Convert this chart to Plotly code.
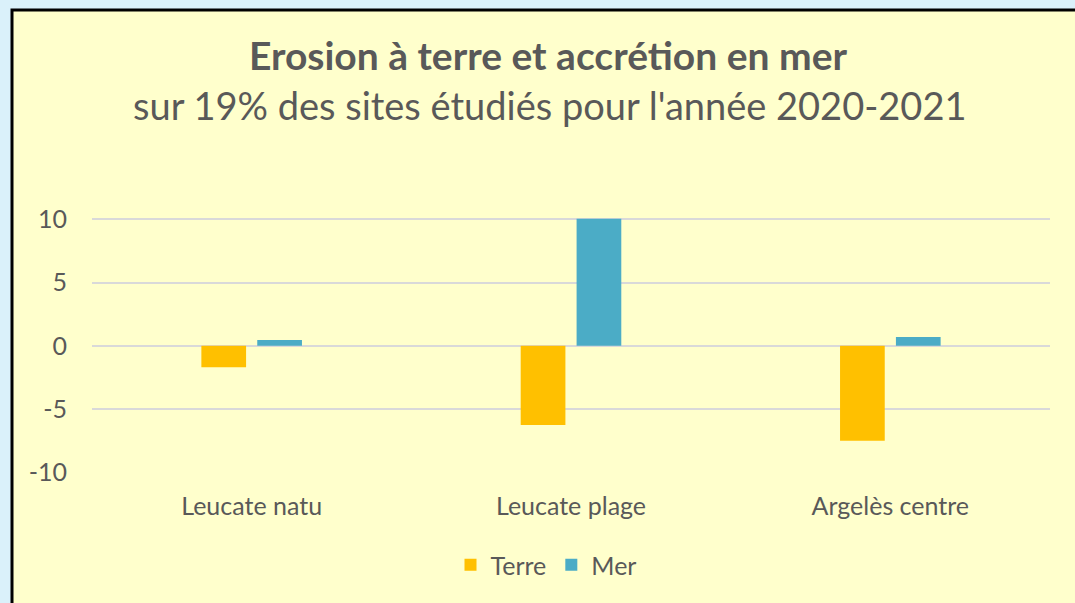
import plotly.graph_objects as go

categories = ["Leucate natu", "Leucate plage", "Argelès centre"]
terre = [-1.7, -6.25, -7.5]
mer = [0.45, 10.05, 0.7]
series_names = ["Terre", "Mer"]
ytick_vals = [-10, -5, 0, 5, 10]
ytick_text = ["-10", "-5", "0", "5", "10"]
title_text = "Erosion à terre et accrétion en mer"
subtitle_text = "sur 19% des sites étudiés pour l'année 2020-2021"

FONT = "Lato"
TXT = "#595959"

fig = go.Figure()
fig.add_trace(go.Bar(x=categories, y=terre, name=series_names[0],
                     marker=dict(color="#FFC000", line=dict(width=0))))
fig.add_trace(go.Bar(x=categories, y=mer, name=series_names[1],
                     marker=dict(color="#4BACC6", line=dict(width=0))))

W, H = 1075, 603
ml, mr, mt, mb = 92, 25, 218, 130
pw, ph = W - ml - mr, H - mt - mb

def px(x):
    return (x - ml) / pw

def py(y):
    return (H - mb - y) / ph

fig.update_layout(
    width=W, height=H,
    margin=dict(l=ml, r=mr, t=mt, b=mb, pad=0),
    paper_bgcolor="#DAF1FA",
    plot_bgcolor="rgba(0,0,0,0)",
    font=dict(family=FONT, color=TXT, size=25),
    barmode="group", bargap=0.65, bargroupgap=0.2,
    title=dict(text="<b>" + title_text + "</b>", x=548 / W, xanchor="center",
               y=1 - 56 / H, yanchor="middle", yref="container",
               font=dict(family=FONT, size=39, color=TXT)),
    showlegend=True,
    legend=dict(orientation="h", x=px(546), xanchor="center", y=py(565), yanchor="middle",
                font=dict(size=25, color=TXT), bgcolor="rgba(0,0,0,0)",
                itemsizing="constant", traceorder="normal"),
    xaxis=dict(showgrid=False, showline=False, ticks="", tickfont=dict(size=25, color=TXT),
               ticklabelstandoff=16),
    yaxis=dict(range=[-10.05, 10.1], tickmode="array", tickvals=ytick_vals, ticktext=ytick_text,
               showgrid=True, gridcolor="#D9D9D9", gridwidth=2,
               zeroline=True, zerolinecolor="#D9D9D9", zerolinewidth=2,
               showline=False, ticks="", tickfont=dict(size=25, color=TXT),
               ticklabelstandoff=24),
    annotations=[dict(text=subtitle_text, xref="paper", yref="paper",
                      x=px(549), y=py(105), xanchor="center", yanchor="middle",
                      showarrow=False, font=dict(family=FONT, size=38, color=TXT))],
    shapes=[dict(type="rect", xref="paper", yref="paper", layer="below",
                 x0=px(12), x1=px(1090), y0=py(620), y1=py(10),
                 fillcolor="#FFFFCC", line=dict(color="#000000", width=3))],
)

fig.write_html("out.html", config={"displayModeBar": False},
               post_script="document.body.style.margin='0';")
